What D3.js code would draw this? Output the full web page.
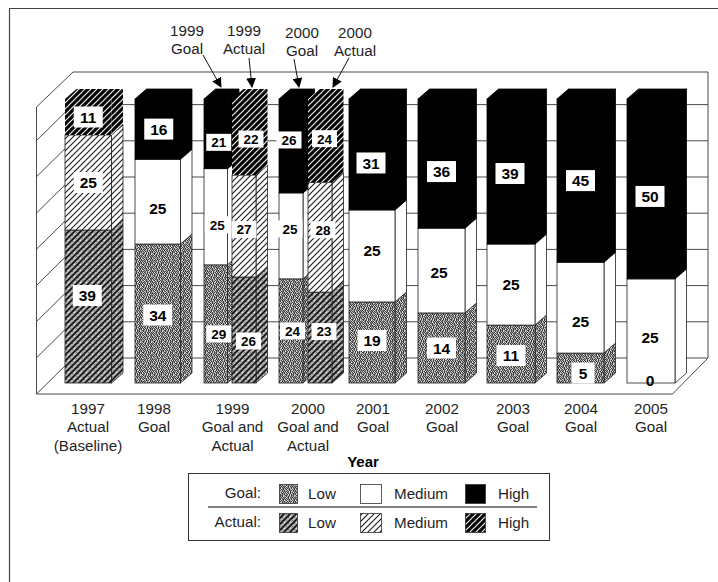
<!DOCTYPE html>
<html>
<head>
<meta charset="utf-8">
<style>
html,body{margin:0;padding:0;background:#fff;}
svg{display:block;}
text{font-family:"Liberation Sans",Arial,sans-serif;fill:#1f1f1f;}
</style>
<script src="https://d3js.org/d3.v7.min.js"></script>
</head>
<body>
<svg id="chart" width="718" height="582"></svg>
<script>
// ---------- data ----------
const categories = ["1997","1998","1999","2000","2001","2002","2003","2004","2005"];
const tickLabels = [
  ["1997","Actual","(Baseline)"],["1998","Goal"],["1999","Goal and","Actual"],
  ["2000","Goal and","Actual"],["2001","Goal"],["2002","Goal"],["2003","Goal"],["2004","Goal"],["2005","Goal"]
];
const barIds   = ["1997A","1998G","1999G","1999A","2000G","2000A","2001G","2002G","2003G","2004G","2005G"];
const barKinds = ["actual","goal","goal","actual","goal","actual","goal","goal","goal","goal","goal"];
// printed labels
const lowLabels    = [39,34,29,26,24,23,19,14,11,5,0];
const mediumLabels = [25,25,25,27,25,28,25,25,25,25,25];
const highLabels   = [11,16,21,22,26,24,31,36,39,45,50];
// drawn segment heights as measured on the picture (the plot does not follow the labels exactly)
const lowDrawn    = [40.4,36.7,31.2,28.0,27.5,24.0,21.4,18.5,15.3,7.9,0];
const mediumDrawn = [25.1,22.4,25.4,26.9,22.7,29.0,24.3,22.4,21.4,24.0,27.5];
const highDrawn   = [9.5,15.9,18.4,20.1,24.8,22.0,29.3,34.1,38.3,43.1,47.5];
const gridValues  = [0,10,20,30,40,50,60,70];
const callouts = [["1999","Goal"],["1999","Actual"],["2000","Goal"],["2000","Actual"]];
const legendLevels = ["Low","Medium","High"];
const legendRows = ["Goal:","Actual:"];

// ---------- layout ----------
const svg = d3.select("#chart");
const defs = svg.append("defs");
const dx = 11.5, dy = 10;
const y = d3.scaleLinear().domain([0,75]).range([383,99]);
const yGrid = d3.scaleLinear().domain([0,10]).range([358,321.8]);
const barLeft = d3.scaleOrdinal(barIds,[65,135,204,232,279,308,349,418,487,557,627]);
const barWidth = d3.scaleOrdinal(barIds,[46.5,45.5,23.5,24,24,24,46,47,48,47,48]);
const tickX = d3.scaleOrdinal(categories,[88,154,232.5,308,373,442,513,581,651]);

// ---------- fills ----------
// fixed speckle tile: scanned halftone look
const grain = [
  "#7a#b#5#a9#",
  "#9#6a#8#b5a",
  "b5#a#7#9#6#",
  "#8#b6#a#7#a",
  "a#7#9#b5#8#",
  "#b6#8a#7#b5",
  "9#a#5#b#6#a",
  "#7#b#a9#8#6",
  "b#6a#7#b#a#",
  "#a#8#b6#5#9",
  "6#b#9#a#7#b"
];
const grainColor = {"#":"#3c3c3c","5":"#777","6":"#888","7":"#999","8":"#aaa","9":"#bbb","a":"#ccc","b":"#e4e4e4"};
function grainRects(p,n){
  grain.slice(0,n).forEach((row,r)=>row.slice(0,n).split("").forEach((ch,c)=>
    p.append("rect").attr("x",c).attr("y",r).attr("width",1).attr("height",1).attr("fill",grainColor[ch])));
}
function tile(id,size){
  return defs.append("pattern").attr("id",id).attr("patternUnits","userSpaceOnUse").attr("width",size).attr("height",size);
}
function diagonals(p,size,ink,w){
  p.append("path").attr("d",`M-2,2L2,-2M0,${size}L${size},0M${size-2},${size+2}L${size+2},${size-2}`)
    .attr("stroke",ink).attr("stroke-width",w).attr("fill","none");
}
grainRects(tile("goalLow",11),11);
const al = tile("actualLow",6);
al.append("rect").attr("width",6).attr("height",6).attr("fill","#b0b0b0");
[[0,1,"#666"],[2,0,"#ddd"],[1,3,"#ddd"],[4,4,"#777"],[3,2,"#888"],[5,5,"#ccc"]].forEach(d=>
  al.append("rect").attr("x",d[0]).attr("y",d[1]).attr("width",1).attr("height",1).attr("fill",d[2]));
diagonals(al,6,"#111",1.7);
const am = tile("actualMed",6);
am.append("rect").attr("width",6).attr("height",6).attr("fill","#fff");
diagonals(am,6,"#1a1a1a",1.1);
const ah = tile("actualHigh",6);
ah.append("rect").attr("width",6).attr("height",6).attr("fill","#000");
diagonals(ah,6,"#f0f0f0",1.2);
const fills = {
  goal:  {Low:"url(#goalLow)",Medium:"#fff",High:"#000"},
  actual:{Low:"url(#actualLow)",Medium:"url(#actualMed)",High:"url(#actualHigh)"}
};

// ---------- page frame ----------
svg.append("path").attr("d","M9.5,582V8.5H718").attr("fill","none").attr("stroke","#444").attr("stroke-width",1.2);

// ---------- walls ----------
const wallL = 73, wallR = 708, wallT = 72, depthX = 36.5, depthY = 36;
const walls = svg.append("g").attr("fill","none").attr("stroke","#4a4a4a").attr("stroke-width",1);
walls.append("path").attr("d",
  `M${wallL-depthX},${wallT+depthY-1}L${wallL},${wallT}H${wallR}V${yGrid(0)}L${wallR-depthX+1},${yGrid(0)+depthY}H${wallL-depthX}Z`);
walls.selectAll("path.grid").data(gridValues).join("path").attr("class","grid")
  .attr("d",v=>`M${wallL-depthX},${yGrid(v)+depthY}L${wallL},${yGrid(v)}H${wallR}`);

// ---------- bars ----------
const rows = barIds.map((id,i)=>({id,kind:barKinds[i],
  segs:[{lvl:"Low",v:lowDrawn[i],t:lowLabels[i]},{lvl:"Medium",v:mediumDrawn[i],t:mediumLabels[i]},{lvl:"High",v:highDrawn[i],t:highLabels[i]}]}));
rows.forEach(r=>{let c=0;r.segs.forEach(s=>{s.y0=c;c+=s.v;s.y1=c;});});

const barG = svg.selectAll("g.bar").data(rows).join("g").attr("class","bar");
barG.each(function(r){
  const g = d3.select(this), x0 = barLeft(r.id), x1 = x0+barWidth(r.id);
  r.segs.forEach(s=>{
    if(s.v<=0) return;
    const yb=y(s.y0), yt=y(s.y1), fill=fills[r.kind][s.lvl];
    const line = s.lvl==="High" ? (r.kind==="goal"?"#000":"none") : "#222";
    g.append("path").attr("fill",fill).attr("stroke",line).attr("stroke-width",.8)
      .attr("d",`M${x1},${yb}L${x1+dx},${yb-dy}V${yt-dy}L${x1},${yt}Z`);
    g.append("rect").attr("x",x0).attr("y",yt).attr("width",x1-x0).attr("height",yb-yt)
      .attr("fill",fill).attr("stroke",line).attr("stroke-width",.8);
    if(s.lvl==="High") g.append("path").attr("fill",fill).attr("stroke",line).attr("stroke-width",.8)
      .attr("d",`M${x0},${yt}L${x0+dx},${yt-dy}H${x1+dx}L${x1},${yt}Z`);
  });
});

// ---------- value labels (offset from each segment's middle, where the original placed them) ----------
const labelShift = {
  "1997A":[[-1,-11],[0,0],[0,0]],"1998G":[[0,1.5],[0,6.5],[1,0]],
  "1999G":[[3,10],[1.5,8],[3,8.5]],"1999A":[[4.5,11],[0,3.5],[7,2]],
  "2000G":[[1.5,0],[-1,-7],[-2,-6]],"2000A":[[4,-6],[3,-7.5],[4.5,-2]],
  "2001G":[[0,-2],[0,-6],[-1,8.5]],"2002G":[[0,0],[-2.5,1.5],[0,8]],
  "2003G":[[0,1.5],[0,0],[-1,2]],"2004G":[[2.5,5],[0,13.5],[0,0]],"2005G":[[-1,-3],[-1,6],[-1,7.5]]
};
const labelG = svg.append("g");
rows.forEach(r=>{
  const narrow = barWidth(r.id)<30, cx = barLeft(r.id)+barWidth(r.id)/2;
  r.segs.forEach((s,i)=>{
    const [sx,sy]=labelShift[r.id][i];
    const px=cx+sx, py=(y(s.y0)+y(s.y1))/2+sy;
    const bw = narrow?25:(String(s.t).length<2?23:29), bh = narrow?17:21;
    if(s.t!==0) labelG.append("rect").attr("x",px-bw/2).attr("y",py-bh/2).attr("width",bw).attr("height",bh).attr("fill","#fff");
    labelG.append("text").attr("x",px).attr("y",py).attr("dy","0.36em").attr("text-anchor","middle")
      .attr("font-weight","bold").attr("font-size",narrow?13.5:15.5).style("fill","#000").text(s.t);
  });
});

// ---------- category labels ----------
const tickG = svg.selectAll("text.tick").data(categories).join("text").attr("class","tick")
  .attr("text-anchor","middle").attr("font-size",15.2);
tickG.each(function(c,i){
  d3.select(this).selectAll("tspan").data(tickLabels[i]).join("tspan")
    .attr("x",tickX(c)).attr("y",(d,j)=>414+j*18.4).text(d=>d);
});
svg.append("text").attr("x",363).attr("y",467).attr("text-anchor","middle")
  .attr("font-size",15).attr("font-weight","bold").style("fill","#000").text("Year");

// ---------- call-outs ----------
defs.append("marker").attr("id","arrow").attr("viewBox","0 0 10 10").attr("refX",9).attr("refY",5)
  .attr("markerWidth",10).attr("markerHeight",10).attr("markerUnits","userSpaceOnUse").attr("orient","auto")
  .append("path").attr("d","M0,0L10,5L0,10Z").attr("fill","#000");
const calloutX=[187,244,302,355], calloutY=[36,36,38,38];
const arrowEnds=[[203,55,221,87],[249,58,252,87],[294,59,299,87],[349,58,333,87]];
callouts.forEach((c,i)=>{
  const t=svg.append("text").attr("text-anchor","middle").attr("font-size",15.2);
  c.forEach((w,j)=>t.append("tspan").attr("x",calloutX[i]).attr("y",calloutY[i]+j*18.4).text(w));
  const a=arrowEnds[i];
  svg.append("line").attr("x1",a[0]).attr("y1",a[1]).attr("x2",a[2]).attr("y2",a[3])
    .attr("stroke","#111").attr("stroke-width",1).attr("marker-end","url(#arrow)");
});

// ---------- legend ----------
const lg = svg.append("g");
lg.append("rect").attr("x",188.5).attr("y",473.5).attr("width",361).attr("height",67)
  .attr("fill","#fff").attr("stroke","#333").attr("stroke-width",1);
lg.append("line").attr("x1",208).attr("x2",537).attr("y1",507).attr("y2",507).attr("stroke","#000").attr("stroke-width",1.2);
const rowY=[484,513], swatchX=[279,360,465], swatchW=[18,21,20], labelX=[308,394,498];
legendRows.forEach((r,i)=>{
  lg.append("text").attr("x",261).attr("y",rowY[i]+14).attr("text-anchor","end").attr("font-size",15.2).text(r);
  const kind = i===0?"goal":"actual";
  legendLevels.forEach((l,j)=>{
    lg.append("rect").attr("x",swatchX[j]+.5).attr("y",rowY[i]+.5).attr("width",swatchW[j]).attr("height",19)
      .attr("fill",fills[kind][l]).attr("stroke","#333").attr("stroke-width",.8);
    lg.append("text").attr("x",labelX[j]).attr("y",rowY[i]+15).attr("font-size",15.2).text(l);
  });
});
</script>
</body>
</html>
